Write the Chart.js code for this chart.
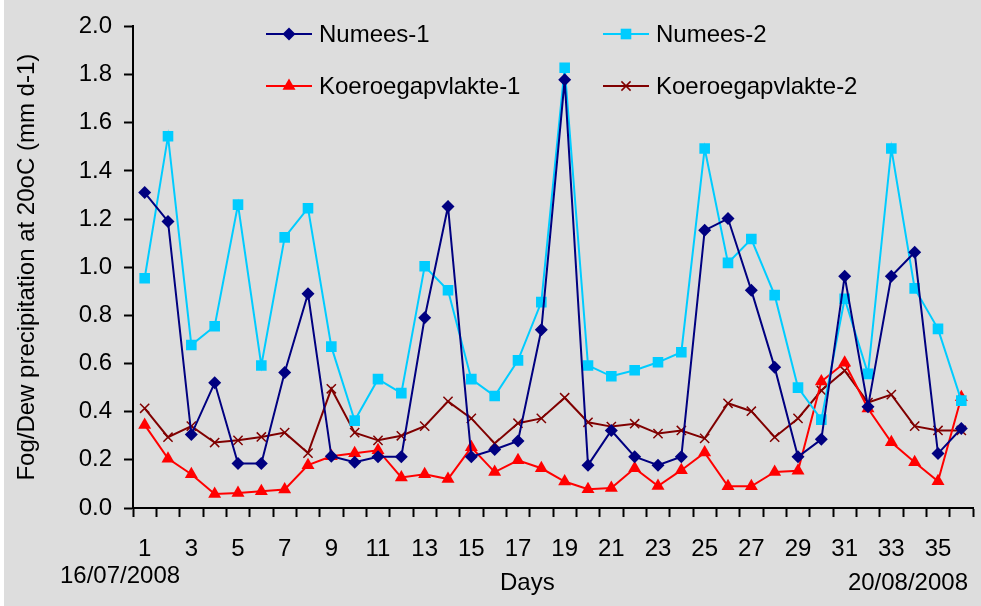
<html>
  <head>
    <script src="https://cdn.jsdelivr.net/npm/chart.js@4.4.1/dist/chart.umd.min.js"></script>
    <style>
      body { margin: 0; background: #ffffff; }
      #output { margin-left: 4px; display: block; }
    </style>
  </head>
  <body>
    <canvas id="output" width="977" height="606"></canvas>

    <script>
      // Days of the measuring period (16/07/2008 - 20/08/2008)
      var days = ['1', '2', '3', '4', '5', '6', '7', '8', '9', '10', '11', '12',
                  '13', '14', '15', '16', '17', '18', '19', '20', '21', '22', '23', '24',
                  '25', '26', '27', '28', '29', '30', '31', '32', '33', '34', '35', '36'];
      var yTicks = ['0.0', '0.2', '0.4', '0.6', '0.8', '1.0', '1.2', '1.4', '1.6', '1.8', '2.0'];

      var numees1 = [1.31, 1.19, 0.305, 0.52, 0.185, 0.185, 0.563, 0.89, 0.215, 0.19, 0.213, 0.213,
                     0.79, 1.252, 0.213, 0.243, 0.278, 0.74, 1.778, 0.178, 0.322, 0.213, 0.178, 0.213,
                     1.153, 1.202, 0.904, 0.584, 0.213, 0.285, 0.962, 0.42, 0.962, 1.062, 0.226, 0.33];
      var numees2 = [0.954, 1.544, 0.677, 0.755, 1.26, 0.592, 1.124, 1.245, 0.67, 0.363, 0.535, 0.477,
                     1.004, 0.904, 0.535, 0.465, 0.613, 0.855, 1.828, 0.592, 0.547, 0.572, 0.605, 0.647,
                     1.493, 1.018, 1.117, 0.884, 0.50, 0.367, 0.869, 0.557, 1.493, 0.912, 0.744, 0.446];
      var koer1 = [0.345, 0.205, 0.14, 0.058, 0.062, 0.07, 0.077, 0.178, 0.215, 0.227, 0.24, 0.127,
                   0.14, 0.12, 0.252, 0.149, 0.198, 0.165, 0.11, 0.078, 0.083, 0.165, 0.091, 0.157,
                   0.23, 0.09, 0.09, 0.15, 0.155, 0.525, 0.603, 0.413, 0.273, 0.19, 0.111, 0.46];
      var koer2 = [0.414, 0.294, 0.34, 0.272, 0.281, 0.295, 0.313, 0.228, 0.495, 0.313, 0.281, 0.30,
                   0.34, 0.443, 0.372, 0.268, 0.352, 0.372, 0.458, 0.356, 0.338, 0.35, 0.309, 0.322,
                   0.289, 0.435, 0.402, 0.294, 0.372, 0.488, 0.57, 0.438, 0.471, 0.34, 0.322, 0.322];

      var FONT = 'Liberation Sans, Arial, sans-serif';

      var series = [
        { label: 'Numees-1', data: numees1, color: '#000080', shape: 'rectRot', r: 6.5 },
        { label: 'Numees-2', data: numees2, color: '#00ccff', shape: 'rect', r: 7.5 },
        { label: 'Koeroegapvlakte-1', data: koer1, color: '#ff0000', shape: 'triangle', r: 7.5 },
        { label: 'Koeroegapvlakte-2', data: koer2, color: '#800000', shape: 'crossRot', r: 6.5 }
      ];

      // small marker painter for the hand-placed legend
      function marker(ctx, shape, x, y, r, color) {
        ctx.save();
        ctx.fillStyle = color;
        ctx.strokeStyle = color;
        ctx.lineWidth = 1.5;
        ctx.beginPath();
        if (shape === 'rectRot') {
          ctx.moveTo(x - r, y); ctx.lineTo(x, y - r); ctx.lineTo(x + r, y); ctx.lineTo(x, y + r);
          ctx.closePath(); ctx.fill();
        } else if (shape === 'rect') {
          var s = Math.SQRT1_2 * r;
          ctx.rect(x - s, y - s, 2 * s, 2 * s); ctx.fill();
        } else if (shape === 'triangle') {
          ctx.moveTo(x, y - r);
          ctx.lineTo(x + r * 0.866, y + r * 0.5);
          ctx.lineTo(x - r * 0.866, y + r * 0.5);
          ctx.closePath(); ctx.fill();
        } else {
          var c = Math.SQRT1_2 * r;
          ctx.moveTo(x - c, y - c); ctx.lineTo(x + c, y + c);
          ctx.moveTo(x - c, y + c); ctx.lineTo(x + c, y - c);
          ctx.stroke();
        }
        ctx.restore();
      }

      var decor = {
        id: 'decor',
        beforeDraw: function(chart) {
          var ctx = chart.ctx;
          ctx.save();
          ctx.fillStyle = '#dddddd';
          ctx.fillRect(0, 0, chart.width, chart.height);
          ctx.restore();
        },
        afterDraw: function(chart) {
          var ctx = chart.ctx;
          ctx.save();
          // legend, two columns inside the plot
          var cols = [262, 599];
          var rows = [34, 86];
          series.forEach(function(s, i) {
            var x = cols[i % 2], y = rows[Math.floor(i / 2)];
            ctx.strokeStyle = s.color;
            ctx.lineWidth = 2;
            ctx.beginPath();
            ctx.moveTo(x, y); ctx.lineTo(x + 46, y);
            ctx.stroke();
            marker(ctx, s.shape, x + 23, y, s.r, s.color);
            ctx.fillStyle = '#000';
            ctx.font = '24px ' + FONT;
            ctx.textBaseline = 'middle';
            ctx.textAlign = 'left';
            ctx.fillText(s.label, x + 53, y + 1);
          });
          // dates and axis name under the x axis
          ctx.textBaseline = 'alphabetic';
          ctx.fillText('16/07/2008', 56, 583);
          ctx.fillText('Days', 496, 590);
          ctx.textAlign = 'right';
          ctx.fillText('20/08/2008', 964, 590);
          ctx.restore();
        }
      };

      var ctx = document.getElementById('output').getContext('2d');
      var myChart = new Chart(ctx, {
        type: 'line',
        data: {
          labels: days,
          datasets: series.map(function(s) {
            return {
              label: s.label,
              data: s.data,
              borderColor: s.color,
              backgroundColor: s.color,
              borderWidth: 2,
              pointStyle: s.shape,
              pointRadius: s.r,
              pointBorderWidth: s.shape === 'crossRot' ? 1.5 : 0,
              pointBorderColor: s.color,
              pointBackgroundColor: s.color,
              tension: 0
            };
          })
        },
        options: {
          responsive: false,
          animation: false,
          layout: { padding: { top: 24, right: 6, bottom: 0, left: 0 } },
          plugins: {
            legend: { display: false },
            tooltip: { enabled: false }
          },
          scales: {
            x: {
              offset: true,
              grid: {
                offset: true,
                drawOnChartArea: false,
                drawTicks: true,
                tickLength: 9,
                tickColor: '#000',
                tickWidth: 2
              },
              border: { color: '#000', width: 2 },
              ticks: {
                autoSkip: false,
                maxRotation: 0,
                color: '#000',
                padding: 18,
                font: { family: FONT, size: 24 },
                callback: function(v, i) { return i % 2 === 0 ? days[i] : ''; }
              },
              afterFit: function(scale) { scale.height = 98; }
            },
            y: {
              min: 0,
              max: 2,
              grid: {
                drawOnChartArea: false,
                drawTicks: true,
                tickLength: 9,
                tickColor: '#000',
                tickWidth: 2
              },
              border: { color: '#000', width: 2 },
              ticks: {
                stepSize: 0.2,
                color: '#000',
                padding: 12,
                font: { family: FONT, size: 24 },
                callback: function(v, i) { return yTicks[i]; }
              },
              title: {
                display: true,
                text: 'Fog/Dew precipitation at 20oC (mm d-1)',
                color: '#000',
                font: { family: FONT, size: 24 },
                padding: { top: 9, bottom: 0 }
              },
              afterFit: function(scale) { scale.width = 129; }
            }
          }
        },
        plugins: [decor]
      });
    </script>
  </body>
</html>
